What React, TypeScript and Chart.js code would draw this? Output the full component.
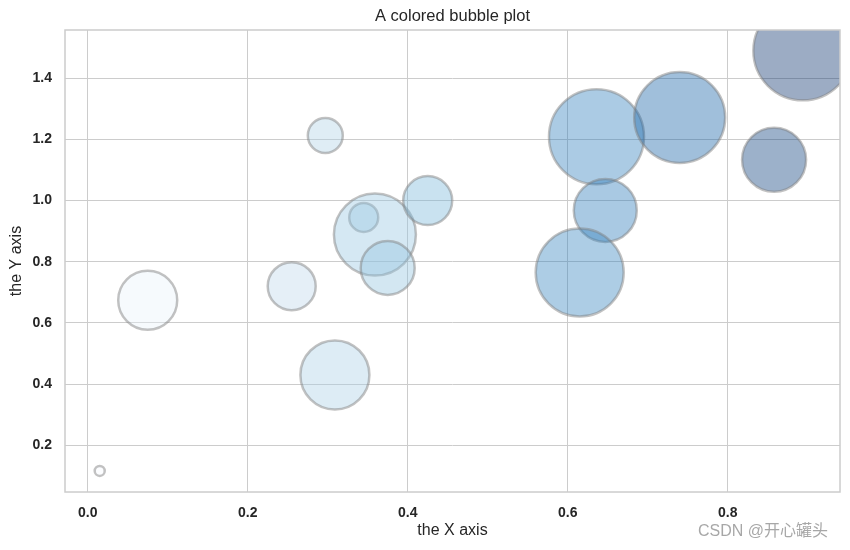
import React, { useEffect, useRef } from "react";
import { Chart, registerables } from "chart.js";

Chart.register(...registerables);

// Bubble data
const xValues = [0.015, 0.075, 0.255, 0.309, 0.297, 0.345, 0.359, 0.375, 0.425, 0.636, 0.74, 0.894, 0.858, 0.647, 0.615];
const yValues = [0.116, 0.674, 0.72, 0.43, 1.213, 0.945, 0.889, 0.78, 1.0, 1.209, 1.272, 1.49, 1.134, 0.968, 0.765];
const sizes = [5, 29.5, 24, 34.5, 17.5, 14.5, 41, 27, 24.5, 47.5, 45.5, 49.5, 32, 31.5, 44];
const colors = [
  "#f7fbff", "#e9f2fb", "#bfd8ec", "#abd0e6", "#afd1e7", "#9ecae1", "#97c6e0", "#90c2de",
  "#79b6d9", "#2d7dbb", "#125ea6", "#08306b", "#083b7b", "#2979b9", "#3383be",
];

const xTicks = [0.0, 0.2, 0.4, 0.6, 0.8];
const yTicks = [0.2, 0.4, 0.6, 0.8, 1.0, 1.2, 1.4];
const xRange = [-0.0284, 0.9404];
const yRange = [0.047, 1.558];
const TITLE = "A colored bubble plot";

const FONT = "'Liberation Sans', Arial, sans-serif";

function withAlpha(hex: string, a: number) {
  const r = parseInt(hex.slice(1, 3), 16);
  const g = parseInt(hex.slice(3, 5), 16);
  const b = parseInt(hex.slice(5, 7), 16);
  return `rgba(${r},${g},${b},${a})`;
}

const framePlugin = {
  id: "frame",
  afterDraw(chart: any) {
    const { ctx, chartArea } = chart;
    ctx.save();
    ctx.strokeStyle = "#cccccc";
    ctx.lineWidth = 1.5;
    ctx.strokeRect(chartArea.left, chartArea.top, chartArea.right - chartArea.left, chartArea.bottom - chartArea.top);
    ctx.fillStyle = "#262626";
    ctx.font = `normal 16.5px ${FONT}`;
    ctx.textAlign = "center";
    ctx.textBaseline = "middle";
    ctx.fillText(TITLE, (chartArea.left + chartArea.right) / 2, 16);
    ctx.restore();
  },
};

export default function App() {
  const ref = useRef<HTMLCanvasElement | null>(null);

  useEffect(() => {
    if (!ref.current) return;
    const data = xValues.map((x, i) => ({ x, y: yValues[i], r: sizes[i] }));
    const chart = new Chart(ref.current, {
      type: "bubble",
      data: {
        datasets: [
          {
            data,
            backgroundColor: colors.map((c) => withAlpha(c, 0.4)),
            borderColor: "rgba(128,128,128,0.48)",
            borderWidth: 2.5,
            clip: 0,
          } as any,
        ],
      },
      options: {
        animation: false,
        responsive: false,
        events: [],
        layout: { autoPadding: false, padding: { left: 0, right: 10, top: 30, bottom: 0 } },
        plugins: {
          legend: { display: false },
          tooltip: { enabled: false },
          title: { display: false },
        },
        scales: {
          x: {
            type: "linear",
            min: xRange[0],
            max: xRange[1],
            afterBuildTicks: (scale: any) => {
              scale.ticks = xTicks.map((v) => ({ value: v }));
            },
            afterFit: (scale: any) => {
              scale.height = 58;
            },
            grid: { color: "#cccccc", lineWidth: 1, drawTicks: false },
            border: { display: false },
            ticks: {
              color: "#262626",
              font: { family: FONT, size: 14, weight: "bold" },
              padding: 13,
              callback: (v: any) => Number(v).toFixed(1),
            },
            title: {
              display: true,
              text: "the X axis",
              color: "#262626",
              font: { family: FONT, size: 16, weight: "normal" },
              padding: { top: 0, bottom: 9.4 },
            },
          },
          y: {
            type: "linear",
            min: yRange[0],
            max: yRange[1],
            afterBuildTicks: (scale: any) => {
              scale.ticks = yTicks.map((v) => ({ value: v }));
            },
            afterFit: (scale: any) => {
              scale.width = 65;
            },
            grid: { color: "#cccccc", lineWidth: 1, drawTicks: false },
            border: { display: false },
            ticks: {
              color: "#262626",
              font: { family: FONT, size: 14, weight: "bold" },
              padding: 13,
              callback: (v: any) => Number(v).toFixed(1),
            },
            title: {
              display: true,
              text: "the Y axis",
              color: "#262626",
              font: { family: FONT, size: 16, weight: "normal" },
              padding: { top: 7, bottom: 0 },
            },
          },
        },
      },
      plugins: [framePlugin],
    });
    return () => chart.destroy();
  }, []);

  return (
    <div style={{ position: "fixed", left: 0, top: 0, width: 850, height: 550, background: "#ffffff" }}>
      <canvas ref={ref} width={850} height={550} style={{ display: "block" }} />
      <div
        style={{
          position: "absolute",
          left: 698,
          top: 521,
          fontFamily: "'Liberation Sans', 'Noto Sans CJK SC', sans-serif",
          fontSize: 16,
          lineHeight: "20px",
          color: "rgba(130,130,130,0.7)",
          whiteSpace: "nowrap",
        }}
      >
        CSDN @开心罐头
      </div>
    </div>
  );
}
